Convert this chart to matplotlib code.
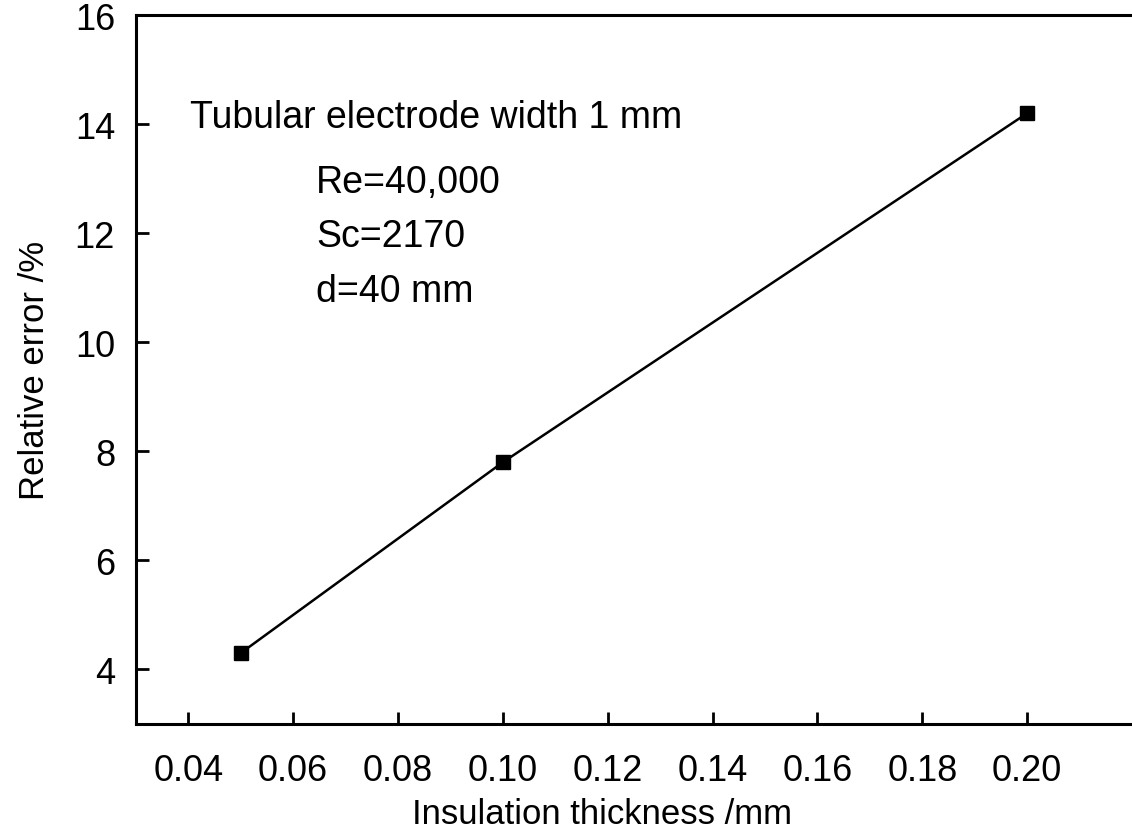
import matplotlib
matplotlib.use("Agg")
import matplotlib.pyplot as plt

# Relative error vs. insulation thickness
thickness_mm = [0.05, 0.10, 0.20]
relative_error = [4.3, 7.8, 14.2]

x_ticks = [0.04, 0.06, 0.08, 0.10, 0.12, 0.14, 0.16, 0.18, 0.20]
y_ticks = [4, 6, 8, 10, 12, 14, 16]

plt.rcParams['font.family'] = ['Liberation Sans', 'DejaVu Sans']

fig = plt.figure(figsize=(11.32, 8.37), dpi=100)
ax = fig.add_axes([0.120, 0.1338, 0.88, 0.847])

ax.plot(thickness_mm, relative_error, color='black', lw=1.8,
        marker='s', markersize=10, markerfacecolor='black')

ax.set_xlim(0.03, 0.22)
ax.set_ylim(3, 16)
ax.set_xticks(x_ticks)
ax.set_xticklabels([f"{v:.2f}" for v in x_ticks])
ax.set_yticks(y_ticks)

for side in ['left', 'bottom', 'top']:
    ax.spines[side].set_linewidth(2.2)
ax.spines['right'].set_visible(False)

ax.tick_params(axis='both', direction='in', length=9, width=2,
               labelsize=26, colors='black')
ax.tick_params(axis='x', pad=21)
ax.tick_params(axis='y', pad=15)
ax.tick_params(top=False, right=False)

ax.set_xlabel("Insulation thickness /mm", fontsize=25)
ax.xaxis.set_label_coords(0.468, -0.103)
ax.set_ylabel("Relative error /%", fontsize=25, labelpad=17)

ax.text(0.0403, 13.94, "Tubular electrode width 1 mm", fontsize=27, va='baseline', ha='left')
ax.text(0.0644, 12.76, "Re=40,000", fontsize=27, va='baseline', ha='left')
ax.text(0.0644, 11.76, "Sc=2170", fontsize=27, va='baseline', ha='left')
ax.text(0.0644, 10.76, "d=40 mm", fontsize=27, va='baseline', ha='left')

fig.savefig("out.png", dpi=100)
